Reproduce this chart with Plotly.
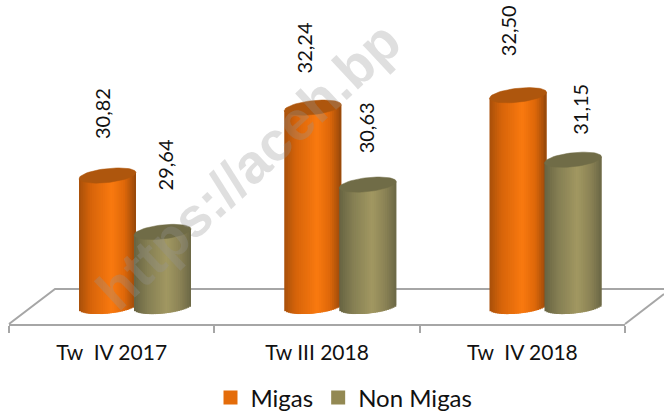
import plotly.graph_objects as go
import numpy as np

categories = ["Tw\u00a0\u00a0IV 2017", "Tw III 2018", "Tw\u00a0\u00a0IV 2018"]
migas = [30.82, 32.24, 32.50]
non_migas = [29.64, 30.63, 31.15]
label_text_migas = ["30,82", "32,24", "32,50"]
label_text_non = ["29,64", "30,63", "31,15"]

W, H = 664, 411
L, R, T, B = 9, 625, 0, 324
PX_PER_CAT = 205.25
PX_PER_UNIT = 47.8
BASE_VALUE = 28.08
BASE_PX = 306.5
GROUP0_PX = 135
BAR_HALF = 28.5
BAR_OFFSET = 27.5
TILT = 3.0
CAP_B = 7.0
N = 31
FONT = "Lato, Carlito, sans-serif"
GRID = "#a6a6a6"

def profile(stops, u):
    xs = [s[0] for s in stops]
    return "rgb(%d,%d,%d)" % tuple(np.interp(u, xs, [s[1][i] for s in stops]) for i in range(3))

orange_stops = [(-1, (168, 80, 10)), (-0.6, (214, 100, 10)), (0.15, (250, 122, 16)),
                (0.6, (222, 104, 10)), (1, (150, 72, 10))]
olive_stops = [(-1, (104, 100, 66)), (-0.5, (134, 128, 84)), (0.15, (162, 152, 98)),
               (0.6, (140, 132, 86)), (1, (108, 104, 70))]

fig = go.Figure()
fig.add_trace(go.Bar(x=categories, y=[None] * 3, name="Migas",
                     marker=dict(color="#E46C0A", line=dict(color="#E46C0A", width=2)), xaxis="x", yaxis="y"))
fig.add_trace(go.Bar(x=categories, y=[None] * 3, name="Non Migas",
                     marker=dict(color="#938953", line=dict(color="#938953", width=2)), xaxis="x", yaxis="y"))

def cylinder(values, sign, stops, cap_color):
    off = sign * BAR_OFFSET / PX_PER_CAT
    us = (np.arange(N) + 0.5) / N * 2 - 1
    sw = 2 * BAR_HALF / N / PX_PER_CAT
    for k, u in enumerate(us):
        bottom_px = -TILT * u + CAP_B * np.sqrt(1 - u * u)
        base = BASE_VALUE - bottom_px / PX_PER_UNIT
        tops = [v + TILT * u / PX_PER_UNIT for v in values]
        w = sw if k == N - 1 else sw * 2
        fig.add_trace(go.Bar(
            x=[i + off + u * BAR_HALF / PX_PER_CAT - sw / 2 + w / 2 for i in range(len(values))],
            y=[t - base for t in tops], base=base, width=w,
            marker=dict(color=profile(stops, u), line_width=0),
            xaxis="x2", yaxis="y", showlegend=False, hoverinfo="skip"))
    t = np.linspace(0, 2 * np.pi, 61)
    for i, v in enumerate(values):
        fig.add_trace(go.Scatter(
            x=i + off + BAR_HALF * np.cos(t) / PX_PER_CAT,
            y=v + (TILT * np.cos(t) + CAP_B * np.sin(t)) / PX_PER_UNIT,
            mode="lines", fill="toself", fillcolor=cap_color, line=dict(color=cap_color, width=0.5),
            xaxis="x2", yaxis="y", showlegend=False, hoverinfo="skip"))

cylinder(migas, -1, orange_stops, "#AE560D")
cylinder(non_migas, 1, olive_stops, "#706C47")

annotations = []
dx_m, dy_m = [-6, -9, -10], [-62, -60, -64]
dx_n, dy_n = [2, -2, 7], [-67, -57, -50]
for vals, txts, sign, dxs, dys in [(migas, label_text_migas, -1, dx_m, dy_m), (non_migas, label_text_non, 1, dx_n, dy_n)]:
    for i, v in enumerate(vals):
        annotations.append(dict(x=i + sign * BAR_OFFSET / PX_PER_CAT, y=v, xref="x2", yref="y", text=txts[i],
                                textangle=-90, showarrow=False, xshift=dxs[i], yshift=-dys[i],
                                font=dict(family=FONT, size=20, color="#111111")))
annotations.append(dict(xref="paper", yref="paper", x=(248 - L) / (R - L), y=(B - 166) / (B - T),
                        text="<b>https://aceh.bp</b>", textangle=-43, showarrow=False,
                        font=dict(family="Liberation Sans", size=55, color="rgba(150,150,150,0.30)")))

def px(x): return (x - L) / (R - L)
def py(y): return (B - y) / (B - T)
floor_pts = [(9, 324), (55, 289), (664, 289)]
shapes = [dict(type="path", xref="paper", yref="paper", layer="below",
               path="M%f,%f L%f,%f L%f,%f" % (px(floor_pts[0][0]), py(floor_pts[0][1]), px(floor_pts[1][0]), py(floor_pts[1][1]),
                                              px(floor_pts[2][0]), py(floor_pts[2][1])),
               line=dict(color=GRID, width=2)),
          dict(type="line", xref="paper", yref="paper", layer="below", x0=px(625), y0=py(324), x1=px(664), y1=py(294),
               line=dict(color=GRID, width=2))]

fig.update_layout(
    width=W, height=H, autosize=False, showlegend=True, barmode="overlay",
    margin=dict(l=L, r=W - R, t=T, b=H - B, autoexpand=False),
    paper_bgcolor="white", plot_bgcolor="rgba(0,0,0,0)",
    font=dict(family=FONT, color="#111111"),
    xaxis=dict(type="category", categoryorder="array", categoryarray=categories, range=[-0.5, 2.5],
               showline=True, linecolor=GRID, linewidth=2, ticks="outside", ticklen=7, tickwidth=2,
               tickcolor=GRID, tickson="boundaries", showgrid=False, zeroline=False,
               ticklabelstandoff=9,
               tickfont=dict(family=FONT, size=21, color="#111111")),
    xaxis2=dict(overlaying="x", range=[(L - GROUP0_PX) / PX_PER_CAT, (R - GROUP0_PX) / PX_PER_CAT],
                visible=False),
    yaxis=dict(range=[BASE_VALUE - (B - BASE_PX) / PX_PER_UNIT, BASE_VALUE + (BASE_PX - T) / PX_PER_UNIT],
               visible=False),
    legend=dict(orientation="h", x=(344 - L) / (R - L), xanchor="center", y=(B - 398) / (B - T), yanchor="middle",
                font=dict(family=FONT, size=24, color="#111111"), itemwidth=30, traceorder="normal",
                bgcolor="rgba(0,0,0,0)"),
    annotations=annotations, shapes=shapes,
)
fig.write_html("out.html", config=dict(displayModeBar=False),
               post_script="document.body.style.margin='0';")
